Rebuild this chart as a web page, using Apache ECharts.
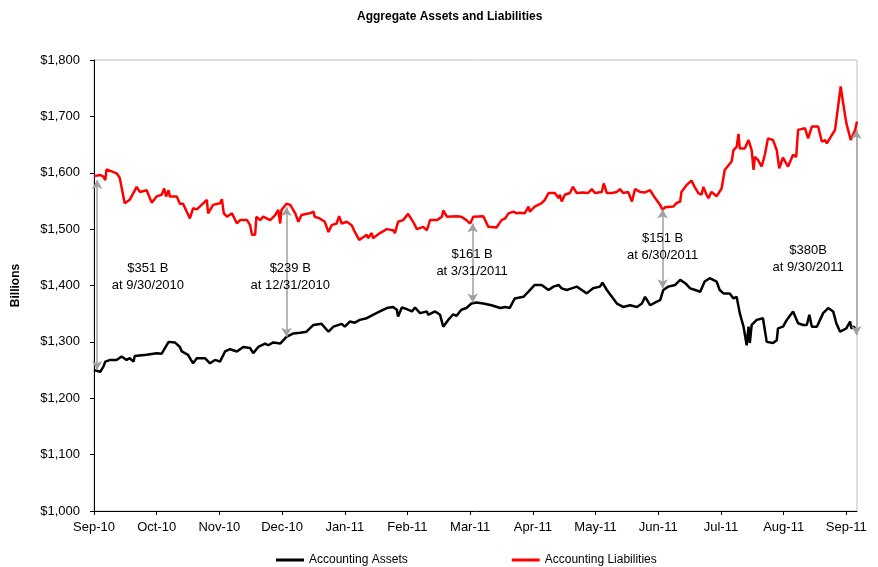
<!DOCTYPE html>
<html>
<head>
<meta charset="utf-8">
<title>Aggregate Assets and Liabilities</title>
<script src="https://cdn.jsdelivr.net/npm/echarts@6/dist/echarts.min.js"></script>
<style>
  html, body { margin: 0; padding: 0; background: #fff; }
  #chart { width: 878px; height: 567px; }
</style>
</head>
<body>
<div id="chart"></div>
<script>
// x is measured in axis-label steps (0 = Sep-10, 12 = Sep-11)
var tickLabels = ['Sep-10', 'Oct-10', 'Nov-10', 'Dec-10', 'Jan-11', 'Feb-11', 'Mar-11',
                  'Apr-11', 'May-11', 'Jun-11', 'Jul-11', 'Aug-11', 'Sep-11'];

var liabX = [0, 0.10, 0.15, 0.18, 0.20, 0.36, 0.41, 0.49, 0.57, 0.68, 0.73, 0.84, 0.92, 1.00, 1.08, 1.12, 1.15, 1.19, 1.21, 1.32,
             1.37, 1.42, 1.53, 1.58, 1.64, 1.80, 1.82, 1.90, 2.01, 2.04, 2.07, 2.12, 2.20, 2.28, 2.33, 2.44, 2.49, 2.52, 2.57, 2.59,
             2.65, 2.70, 2.81, 2.89, 2.94, 2.97, 2.99, 3.07, 3.13, 3.21, 3.26, 3.31, 3.44, 3.50, 3.52, 3.60, 3.68, 3.74, 3.79, 3.87,
             3.91, 3.95, 4.03, 4.11, 4.16, 4.23, 4.30, 4.35, 4.37, 4.43, 4.45, 4.56, 4.67, 4.77, 4.80, 4.85, 4.93, 5.01, 5.09, 5.15,
             5.25, 5.31, 5.36, 5.47, 5.55, 5.57, 5.63, 5.78, 5.86, 5.94, 6.00, 6.05, 6.21, 6.29, 6.42, 6.50, 6.56, 6.61, 6.69, 6.74,
             6.79, 6.87, 6.93, 6.95, 7.03, 7.14, 7.19, 7.25, 7.35, 7.41, 7.43, 7.46, 7.51, 7.59, 7.64, 7.70, 7.80, 7.88, 7.94, 7.99,
             8.10, 8.13, 8.18, 8.26, 8.34, 8.39, 8.44, 8.52, 8.58, 8.63, 8.71, 8.79, 8.87, 8.95, 9.03, 9.07, 9.11, 9.24, 9.29, 9.35,
             9.37, 9.45, 9.53, 9.58, 9.64, 9.69, 9.72, 9.77, 9.80, 9.85, 9.93, 10.01, 10.06, 10.17, 10.20, 10.25, 10.28, 10.30, 10.38, 10.44,
             10.46, 10.49, 10.52, 10.54, 10.59, 10.65, 10.70, 10.75, 10.83, 10.89, 10.93, 10.99, 11.07, 11.15, 11.20, 11.23, 11.34, 11.39, 11.45, 11.55,
             11.61, 11.66, 11.69, 11.77, 11.82, 11.85, 11.91, 11.95, 12.00, 12.07, 12.14, 12.17];
var liabY = [1594, 1596, 1593, 1587, 1606, 1599, 1591, 1546, 1552, 1575, 1566, 1569, 1547, 1558, 1561, 1572, 1558, 1569, 1558, 1558,
             1545, 1545, 1519, 1537, 1535, 1552, 1528, 1543, 1546, 1553, 1528, 1522, 1528, 1510, 1516, 1516, 1507, 1490, 1490, 1522,
             1516, 1522, 1516, 1525, 1534, 1510, 1534, 1545, 1543, 1528, 1513, 1525, 1528, 1531, 1522, 1519, 1513, 1495, 1507, 1510,
             1523, 1510, 1513, 1507, 1495, 1481, 1486, 1490, 1484, 1493, 1484, 1493, 1500, 1498, 1493, 1513, 1516, 1527, 1513, 1500,
             1504, 1498, 1516, 1516, 1522, 1533, 1522, 1523, 1522, 1516, 1510, 1522, 1523, 1504, 1503, 1516, 1519, 1528, 1531, 1528,
             1529, 1528, 1540, 1531, 1540, 1546, 1552, 1564, 1564, 1555, 1561, 1549, 1561, 1564, 1575, 1564, 1565, 1564, 1571, 1564,
             1566, 1581, 1564, 1564, 1566, 1571, 1564, 1566, 1549, 1571, 1566, 1565, 1569, 1555, 1543, 1534, 1539, 1540, 1546, 1549,
             1566, 1578, 1586, 1575, 1564, 1561, 1575, 1561, 1555, 1566, 1558, 1572, 1605, 1620, 1640, 1646, 1669, 1643, 1643, 1658,
             1661, 1640, 1605, 1628, 1623, 1611, 1632, 1661, 1658, 1640, 1608, 1627, 1611, 1632, 1628, 1676, 1679, 1661, 1682, 1682,
             1655, 1658, 1652, 1667, 1676, 1674, 1753, 1723, 1688, 1658, 1676, 1691];

var assetX = [0, 0.10, 0.15, 0.18, 0.26, 0.36, 0.44, 0.52, 0.57, 0.63, 0.65, 0.84, 1.00, 1.08, 1.19, 1.29, 1.37, 1.40, 1.50, 1.58,
              1.64, 1.77, 1.85, 1.93, 2.01, 2.09, 2.17, 2.28, 2.38, 2.49, 2.54, 2.62, 2.73, 2.78, 2.86, 2.97, 3.07, 3.18, 3.29, 3.39,
              3.50, 3.63, 3.74, 3.82, 3.95, 4.00, 4.08, 4.16, 4.24, 4.35, 4.45, 4.56, 4.67, 4.77, 4.83, 4.85, 4.91, 4.99, 5.07, 5.12,
              5.20, 5.31, 5.33, 5.44, 5.52, 5.57, 5.65, 5.73, 5.78, 5.86, 5.94, 6.02, 6.10, 6.21, 6.34, 6.48, 6.56, 6.63, 6.71, 6.85,
              6.93, 7.03, 7.14, 7.25, 7.33, 7.41, 7.46, 7.54, 7.62, 7.70, 7.78, 7.86, 7.96, 8.07, 8.11, 8.18, 8.26, 8.34, 8.44, 8.55,
              8.66, 8.74, 8.79, 8.87, 8.97, 9.03, 9.08, 9.16, 9.27, 9.35, 9.43, 9.51, 9.59, 9.67, 9.74, 9.82, 9.93, 9.98, 10.04, 10.14,
              10.20, 10.25, 10.30, 10.36, 10.41, 10.44, 10.46, 10.49, 10.57, 10.67, 10.73, 10.83, 10.89, 10.91, 10.99, 11.05, 11.15, 11.23, 11.31, 11.37,
              11.41, 11.45, 11.53, 11.63, 11.71, 11.79, 11.84, 11.90, 12.00, 12.06, 12.08, 12.12, 12.17];
var assetY = [1250, 1247, 1256, 1265, 1268, 1268, 1274, 1268, 1271, 1265, 1275, 1277, 1280, 1279, 1300, 1299, 1291, 1283, 1277, 1262,
              1271, 1271, 1262, 1268, 1265, 1283, 1287, 1283, 1291, 1289, 1280, 1291, 1297, 1294, 1299, 1297, 1309, 1315, 1316, 1318,
              1330, 1332, 1318, 1327, 1332, 1327, 1336, 1334, 1339, 1342, 1348, 1354, 1360, 1362, 1357, 1345, 1361, 1358, 1354, 1361,
              1351, 1354, 1348, 1354, 1348, 1327, 1339, 1349, 1346, 1357, 1360, 1368, 1370, 1368, 1365, 1360, 1362, 1360, 1377, 1380,
              1389, 1401, 1401, 1392, 1398, 1401, 1395, 1392, 1395, 1398, 1392, 1386, 1395, 1398, 1405, 1392, 1380, 1368, 1362, 1365,
              1362, 1368, 1380, 1365, 1371, 1374, 1392, 1398, 1401, 1410, 1404, 1395, 1392, 1389, 1407, 1413, 1407, 1392, 1386, 1386,
              1377, 1380, 1351, 1327, 1294, 1327, 1298, 1330, 1339, 1342, 1300, 1298, 1303, 1324, 1327, 1339, 1354, 1333, 1330, 1330,
              1348, 1327, 1327, 1351, 1360, 1354, 1333, 1318, 1324, 1336, 1324, 1327, 1318];

// gap arrows between the two lines at each quarter end
var gapX = [0.05, 3.07, 6.04, 9.07, 12.16];
var gapTop = [1587, 1539, 1510, 1535, 1676];
var gapBottom = [1250, 1309, 1370, 1395, 1312];
var gapNoteX = [0.86, 3.13, 6.03, 9.07, 11.39];
var gapNoteY = [1416, 1416, 1440, 1468, 1447];
var gapNotes = ['$351 B\nat 9/30/2010', '$239 B\nat 12/31/2010', '$161 B\nat 3/31/2011',
                '$151 B\nat 6/30/2011', '$380B\nat 9/30/2011'];

function pairs(xs, ys) {
    var out = [];
    for (var i = 0; i < xs.length; i++) out.push([xs[i], ys[i]]);
    return out;
}

var arrowLines = [], notePoints = [];
for (var i = 0; i < gapX.length; i++) {
    arrowLines.push([{ coord: [gapX[i], gapTop[i]] }, { coord: [gapX[i], gapBottom[i]] }]);
    notePoints.push({ name: gapNotes[i], coord: [gapNoteX[i], gapNoteY[i]] });
}

var font = 'Liberation Sans, Arial, sans-serif';
var chart = echarts.init(document.getElementById('chart'));

var option = {
    animation: false,
    backgroundColor: '#fff',
    title: {
        text: 'Aggregate Assets and Liabilities',
        left: 352,
        top: 6,
        textStyle: { fontFamily: font, fontSize: 12, fontWeight: 'bold', color: '#000' }
    },
    legend: {
        top: 549,
        left: 271,
        itemGap: 104,
        itemWidth: 28,
        itemHeight: 3,
        icon: 'rect',
        textStyle: { fontFamily: font, fontSize: 12, color: '#000' },
        data: ['Accounting Assets', 'Accounting Liabilities']
    },
    grid: {
        left: 94,
        right: 21,
        top: 60,
        bottom: 56,
        show: true,
        borderColor: '#bfbfbf',
        borderWidth: 1
    },
    xAxis: {
        type: 'value',
        min: 0,
        max: 12.17,
        interval: 1,
        splitLine: { show: false },
        axisLine: { lineStyle: { color: '#000', width: 1 } },
        axisTick: { length: 4, lineStyle: { color: '#000' } },
        axisLabel: {
            margin: 10,
            fontFamily: font,
            fontSize: 13,
            color: '#000',
            showMaxLabel: false,
            formatter: function (v) {
                return Math.abs(v - Math.round(v)) < 1e-6 ? (tickLabels[Math.round(v)] || '') : '';
            }
        }
    },
    yAxis: {
        type: 'value',
        min: 1000,
        max: 1800,
        interval: 100,
        name: 'Billions',
        nameLocation: 'middle',
        nameGap: 72,
        nameTextStyle: { fontFamily: font, fontSize: 12, fontWeight: 'bold', color: '#000' },
        splitLine: { show: false },
        axisLine: { show: true, lineStyle: { color: '#000', width: 1 } },
        axisTick: { show: true, length: 4, lineStyle: { color: '#000' } },
        axisLabel: {
            margin: 14,
            fontFamily: font,
            fontSize: 13,
            color: '#000',
            formatter: function (v) {
                return '$' + v.toLocaleString('en-US');
            }
        }
    },
    series: [
        {
            name: 'Accounting Assets',
            type: 'line',
            data: pairs(assetX, assetY),
            showSymbol: false,
            symbol: 'none',
            color: '#000',
            lineStyle: { color: '#000', width: 2.5 },
            z: 3
        },
        {
            name: 'Accounting Liabilities',
            type: 'line',
            data: pairs(liabX, liabY),
            showSymbol: false,
            symbol: 'none',
            color: '#ff0000',
            lineStyle: { color: '#ff0000', width: 2.5 },
            z: 3,
            markLine: {
                silent: true,
                symbol: ['arrow', 'arrow'],
                symbolSize: [8, 9],
                label: { show: false },
                lineStyle: { color: '#a0a0a0', width: 1.5, type: 'solid' },
                emphasis: { disabled: true },
                data: arrowLines
            },
            markPoint: {
                silent: true,
                symbol: 'circle',
                symbolSize: 0,
                label: {
                    show: true,
                    position: 'inside',
                    formatter: '{b}',
                    fontFamily: font,
                    fontSize: 13,
                    lineHeight: 17,
                    color: '#000',
                    align: 'center'
                },
                data: notePoints
            }
        }
    ]
};

chart.setOption(option);
</script>
</body>
</html>
